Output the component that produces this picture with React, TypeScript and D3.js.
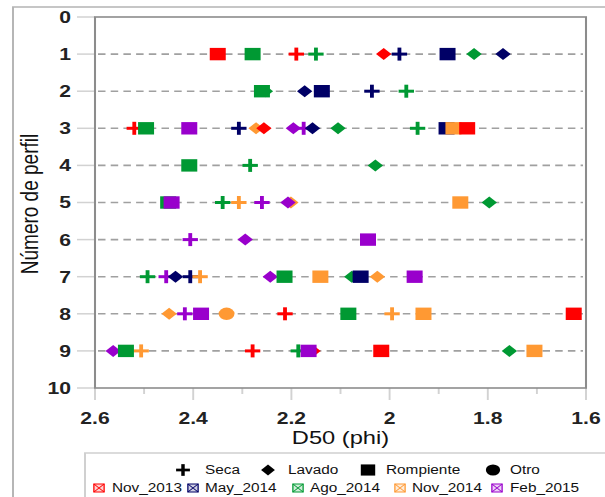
import React from "react";
import * as d3 from "d3";

// ---------- data ----------
type Kind = "seca" | "lavado" | "rompiente" | "otro";
type Pt = [number, Kind, number]; // [perfil, tipo, D50]

const perfilTicks = [0, 1, 2, 3, 4, 5, 6, 7, 8, 9, 10];
const d50Ticks = [2.6, 2.4, 2.2, 2.0, 1.8, 1.6];
const d50Minor = [2.5, 2.3, 2.1, 1.9, 1.7];

const nov2013: Pt[] = [
  [1, "rompiente", 2.35], [1, "seca", 2.19], [1, "lavado", 2.012],
  [3, "seca", 2.52], [3, "lavado", 2.256], [3, "rompiente", 1.842],
  [8, "seca", 2.213], [8, "rompiente", 1.625],
  [9, "seca", 2.279], [9, "lavado", 2.156], [9, "rompiente", 2.017],
];
const may2014: Pt[] = [
  [1, "seca", 1.98], [1, "rompiente", 1.882], [1, "lavado", 1.769],
  [2, "lavado", 2.173], [2, "rompiente", 2.138], [2, "seca", 2.036],
  [3, "seca", 2.307], [3, "lavado", 2.157], [3, "rompiente", 1.884],
  [7, "lavado", 2.436], [7, "seca", 2.406], [7, "rompiente", 2.059],
];
const ago2014: Pt[] = [
  [1, "rompiente", 2.279], [1, "seca", 2.15], [1, "lavado", 1.828],
  [2, "lavado", 2.253], [2, "rompiente", 2.26], [2, "seca", 1.966],
  [3, "rompiente", 2.496], [3, "lavado", 2.105], [3, "seca", 1.943],
  [4, "rompiente", 2.408], [4, "seca", 2.284], [4, "lavado", 2.029],
  [5, "rompiente", 2.451], [5, "seca", 2.34], [5, "lavado", 1.797],
  [7, "seca", 2.493], [7, "rompiente", 2.214], [7, "lavado", 2.077],
  [8, "rompiente", 2.084],
  [9, "rompiente", 2.537], [9, "seca", 2.186], [9, "lavado", 1.756],
];
const nov2014: Pt[] = [
  [3, "lavado", 2.272], [3, "rompiente", 1.87],
  [5, "seca", 2.307], [5, "lavado", 2.201], [5, "rompiente", 1.856],
  [7, "seca", 2.386], [7, "rompiente", 2.141], [7, "lavado", 2.025],
  [8, "lavado", 2.449], [8, "otro", 2.332], [8, "seca", 1.995], [8, "rompiente", 1.931],
  [9, "seca", 2.506], [9, "rompiente", 1.705],
];
const feb2015: Pt[] = [
  [3, "rompiente", 2.408], [3, "lavado", 2.196], [3, "seca", 2.175],
  [5, "rompiente", 2.444], [5, "seca", 2.26], [5, "lavado", 2.207],
  [6, "seca", 2.406], [6, "lavado", 2.294], [6, "rompiente", 2.044],
  [7, "seca", 2.455], [7, "lavado", 2.243], [7, "rompiente", 1.949],
  [8, "seca", 2.417], [8, "rompiente", 2.384],
  [9, "lavado", 2.563], [9, "rompiente", 2.165],
];

const seriesNames = ["Nov_2013", "May_2014", "Ago_2014", "Nov_2014", "Feb_2015"];
const seriesData = [nov2013, may2014, ago2014, nov2014, feb2015];
const seriesColors = ["#ff0000", "#000066", "#009933", "#ff9933", "#9900cc"];
const drawRank = [3, 0, 1, 2, 4]; // stacking order of the series
const kinds: Kind[] = ["seca", "lavado", "rompiente", "otro"];
const kindLabels = ["Seca", "Lavado", "Rompiente", "Otro"];
const kindRank: Record<Kind, number> = { seca: 0, lavado: 1, otro: 2, rompiente: 3 };

// ---------- layout ----------
const W = 605;
const H = 497;
const SX = 1.28; // the original picture is stretched horizontally
const vx = (x: number) => x / SX;
const VW = W / SX;
const FONT = "'Liberation Sans', Arial, Helvetica, sans-serif";

const PL = vx(95), PR = vx(586), PT = 17, PB = 388;

function Marker({ kind, x, y, color, s = 1 }: { kind: Kind; x: number; y: number; color: string; s?: number }) {
  if (kind === "rompiente") {
    const a = 12.5 * s;
    return <rect x={x - a / 2} y={y - 6.2 * s} width={a} height={12.4 * s} fill={color} />;
  }
  if (kind === "lavado") {
    const r = 6 * s;
    return <path d={`M${x - r},${y}L${x},${y - r}L${x + r},${y}L${x},${y + r}Z`} fill={color} />;
  }
  if (kind === "otro") {
    return <circle cx={x} cy={y} r={6.2 * s} fill={color} />;
  }
  const h = 6 * s;
  const hv = 6.5 * s;
  return (
    <g stroke={color} strokeWidth={3 * s}>
      <line x1={x - h} x2={x + h} y1={y} y2={y} />
      <line x1={x} x2={x} y1={y - hv} y2={y + hv} />
    </g>
  );
}

export default function App() {
  const x = d3.scaleLinear().domain([2.6, 1.6]).range([PL, PR]);
  const y = d3.scaleLinear().domain([0, 10]).range([PT, PB]);

  const pts = seriesData
    .flatMap((arr, si) => arr.map(([p, k, v]) => ({ p, k, v, si })))
    .sort((a, b) => kindRank[a.k] - kindRank[b.k] || drawRank[a.si] - drawRank[b.si]);

  const legend1X = [183, 268, 368, 493];
  const legend1T = [205, 288, 386, 510];
  const legend2X = [99, 193, 298, 400, 497];
  const legend2T = [112, 205, 310, 412, 510];

  return (
    <svg
      width={W}
      height={H}
      viewBox={`0 0 ${VW} ${H}`}
      preserveAspectRatio="none"
      style={{ position: "absolute", left: 0, top: 0, display: "block", background: "#fff" }}
      fontFamily={FONT}
    >
      <rect x={0} y={0} width={VW} height={H} fill="#fff" />
      {/* outer frame */}
      <rect x={vx(13)} y={7} width={VW} height={H} fill="none" stroke="#b4b4b4" strokeWidth={1.5} />

      {/* y ticks */}
      {perfilTicks.map((t) => (
        <g key={"yt" + t}>
          <line x1={vx(77)} x2={PL} y1={y(t)} y2={y(t)} stroke="#d2d2d2" strokeWidth={1.5} />
          <text x={vx(71)} y={y(t) + 6} textAnchor="end" fontSize={16.5} fontWeight="bold" fill="#222">
            {t}
          </text>
        </g>
      ))}
      {/* dashed grid lines */}
      {perfilTicks.filter((t) => t > 0 && t < 10).map((t) => (
        <line key={"g" + t} x1={PL + vx(3)} x2={PR - vx(3)} y1={y(t)} y2={y(t)}
          stroke="#a0a0a0" strokeWidth={1.6} strokeDasharray={`${vx(7.5)} ${vx(5.2)}`} />
      ))}

      {/* x ticks */}
      {d50Ticks.map((t) => (
        <g key={"xt" + t}>
          <line x1={x(t)} x2={x(t)} y1={PB} y2={PB + 12} stroke="#d2d2d2" strokeWidth={1.5} />
          <text x={x(t)} y={424} textAnchor="middle" fontSize={16.5} fontWeight="bold" fill="#222">
            {d3.format("")(t)}
          </text>
        </g>
      ))}
      {d50Minor.map((t) => (
        <line key={"xm" + t} x1={x(t)} x2={x(t)} y1={PB} y2={PB + 6} stroke="#d2d2d2" strokeWidth={1.5} />
      ))}

      {/* plot frame */}
      <rect x={PL} y={PT} width={PR - PL} height={PB - PT} fill="none" stroke="#8c8c8c" strokeWidth={1.6} />

      {/* points */}
      {pts.map((d, i) => (
        <Marker key={i} kind={d.k} x={x(d.v)} y={y(d.p)} color={seriesColors[d.si]} />
      ))}

      {/* axis titles */}
      <text x={(PL + PR) / 2} y={444} textAnchor="middle" fontSize={18.5} fill="#111">D50 (phi)</text>
      <text transform={`translate(${vx(30)},${204}) rotate(-90)`} textAnchor="middle" dy={6.5}
        fontSize={19} fill="#111">Número de perfil</text>

      {/* legend */}
      <rect x={vx(85)} y={453} width={VW} height={H} fill="none" stroke="#cfcfcf" strokeWidth={1.5} />
      {kinds.map((k, i) => (
        <g key={"lk" + k}>
          <Marker kind={k} x={vx(legend1X[i])} y={470} color="#000" s={0.9} />
          <text x={vx(legend1T[i])} y={474.5} fontSize={12} fill="#111">{kindLabels[i]}</text>
        </g>
      ))}
      {seriesNames.map((n, i) => {
        const cx = vx(legend2X[i]);
        const cy = 488;
        const hw = 4, hh = 4;
        const c = seriesColors[i];
        return (
          <g key={"ls" + n}>
            <rect x={cx - hw} y={cy - hh} width={hw * 2} height={hh * 2} fill={c} fillOpacity={0.18} stroke={c} strokeWidth={1} />
            <path d={`M${cx - hw},${cy - hh}L${cx + hw},${cy + hh}M${cx + hw},${cy - hh}L${cx - hw},${cy + hh}`} stroke={c} strokeWidth={0.8} />
            <text x={vx(legend2T[i])} y={492.5} fontSize={12} fill="#111">{n}</text>
          </g>
        );
      })}
    </svg>
  );
}
